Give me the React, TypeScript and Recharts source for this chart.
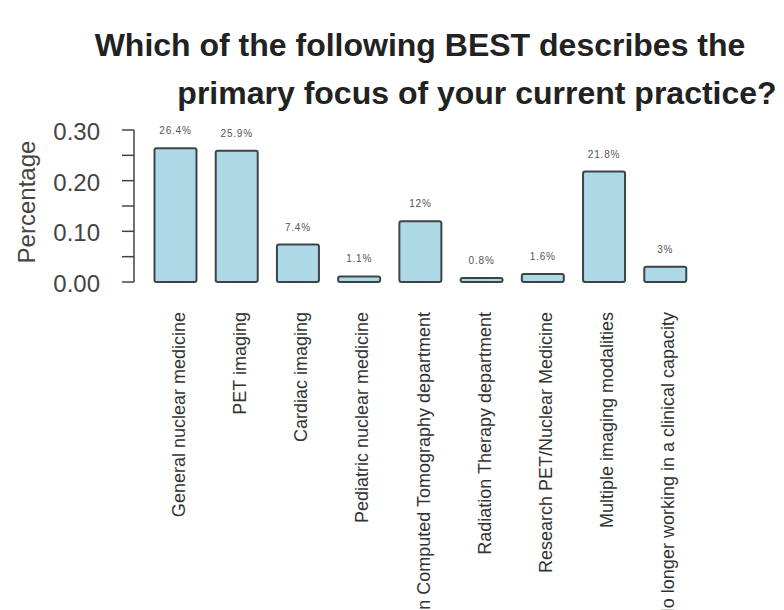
import { BarChart, Bar, XAxis, YAxis, LabelList } from 'recharts';

const categories = [
    'General nuclear medicine',
    'PET imaging',
    'Cardiac imaging',
    'Pediatric nuclear medicine',
    'In Computed Tomography department',
    'Radiation Therapy department',
    'Research PET/Nuclear Medicine',
    'Multiple imaging modalities',
    'No longer working in a clinical capacity',
];

const shares = [0.264, 0.259, 0.074, 0.011, 0.12, 0.008, 0.016, 0.218, 0.03];

const shareLabels = ['26.4%', '25.9%', '7.4%', '1.1%', '12%', '0.8%', '1.6%', '21.8%', '3%'];

const yTicks = [0, 0.05, 0.1, 0.15, 0.2, 0.25, 0.3];

const data = categories.map((name, i) => ({
    name,
    share: shares[i],
    label: shareLabels[i],
}));

const FONT = '"Liberation Sans", Arial, sans-serif';

function XTick({ x, y, payload }: any) {
    return (
        <text
            x={0}
            y={0}
            transform={`translate(${x + 9},${y + 22}) rotate(-90)`}
            textAnchor="end"
            fontSize={18}
            fontFamily={FONT}
            fill="#333"
        >
            {payload.value}
        </text>
    );
}

function YTick({ x, y, payload, index }: any) {
    if (index % 2 !== 0) return null;
    return (
        <text
            x={x - 20}
            y={y}
            dy={10}
            textAnchor="end"
            fontSize={24}
            fontFamily={FONT}
            fill="#444"
        >
            {payload.value.toFixed(2)}
        </text>
    );
}

function ValueLabel({ x, y, width, value }: any) {
    return (
        <text
            x={x + width / 2}
            y={y - 14}
            textAnchor="middle"
            fontSize={10}
            letterSpacing={0.8}
            fontFamily={FONT}
            fill="#555"
        >
            {value}
        </text>
    );
}

export default function App() {
    return (
        <div style={{ position: 'absolute', left: 0, top: 0, width: 784, height: 610, background: '#fff', overflow: 'hidden' }}>
            <div
                style={{
                    position: 'absolute',
                    top: 27,
                    left: 420,
                    transform: 'translateX(-50%)',
                    whiteSpace: 'nowrap',
                    fontFamily: FONT,
                    fontWeight: 700,
                    fontSize: 32,
                    color: '#222',
                }}
            >
                Which of the following BEST describes the
            </div>
            <div
                style={{
                    position: 'absolute',
                    top: 75,
                    left: 477,
                    transform: 'translateX(-50%)',
                    whiteSpace: 'nowrap',
                    fontFamily: FONT,
                    fontWeight: 700,
                    fontSize: 32,
                    color: '#222',
                }}
            >
                primary focus of your current practice?
            </div>
            <div
                style={{
                    position: 'absolute',
                    left: 27,
                    top: 202,
                    transform: 'translate(-50%, -50%) rotate(-90deg)',
                    whiteSpace: 'nowrap',
                    fontFamily: FONT,
                    fontSize: 24,
                    color: '#444',
                }}
            >
                Percentage
            </div>
            <BarChart
                width={784}
                height={610}
                data={data}
                margin={{ top: 130, right: 88, left: 0, bottom: 0 }}
                barCategoryGap="15.5%"
                style={{ position: 'absolute', left: 0, top: 0 }}
            >
                <XAxis
                    dataKey="name"
                    interval={0}
                    height={328}
                    axisLine={false}
                    tickLine={false}
                    tick={<XTick />}
                    padding={{ left: 11, right: 0 }}
                />
                <YAxis
                    width={134}
                    domain={[0, 0.3]}
                    ticks={yTicks}
                    interval={0}
                    tickSize={12}
                    tick={<YTick />}
                    axisLine={{ stroke: '#444', strokeWidth: 1.5 }}
                    tickLine={{ stroke: '#444', strokeWidth: 1.5 }}
                />
                <Bar
                    dataKey="share"
                    fill="#add8e6"
                    stroke="#3d4448"
                    strokeWidth={2}
                    radius={2}
                    isAnimationActive={false}
                >
                    <LabelList dataKey="label" content={<ValueLabel />} />
                </Bar>
            </BarChart>
        </div>
    );
}
